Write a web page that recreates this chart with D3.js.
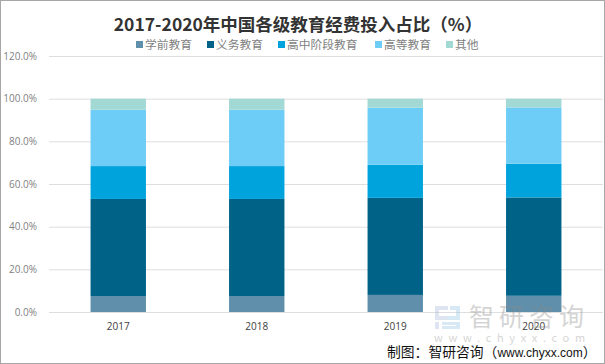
<!DOCTYPE html>
<html>
<head>
<meta charset="utf-8">
<script src="https://cdn.jsdelivr.net/npm/d3@7"></script>
<style>
  html, body { margin: 0; padding: 0; background: #fff; }
  svg { display: block; }
  text { font-family: "Noto Sans CJK SC", "Noto Sans", sans-serif; }
</style>
</head>
<body>
<div id="chart"></div>
<script>
const years = ["2017", "2018", "2019", "2020"]
const seriesNames = ["学前教育", "义务教育", "高中阶段教育", "高等教育", "其他"]
const colors = ["#5f8faa", "#006287", "#00a3dc", "#6dcdf6", "#a3d9d5"]
const preschool = [7.5, 7.5, 8.0, 7.6]
const compulsory = [45.5, 45.5, 45.5, 46.1]
const highSchool = [15.4, 15.4, 15.5, 15.8]
const higher = [26.4, 26.4, 26.8, 26.4]
const others = [5.2, 5.2, 4.2, 4.1]
const yTicks = [0, 20, 40, 60, 80, 100, 120]

const w = 605, h = 364
const svg = d3.select("#chart").append("svg").attr("width", w).attr("height", h)

svg.append("rect")
   .attr("x", 0.5).attr("y", 0.5)
   .attr("width", w - 1).attr("height", h - 1)
   .attr("fill", "#fff")
   .attr("stroke", "#a6a6a6")

const xScale = d3.scaleBand(years, [49, 603]).paddingInner(0.6).paddingOuter(0.3)
const yScale = d3.scaleLinear([0, 120], [312, 56])

// gridlines + y labels
const yAxis = d3.axisLeft(yScale).tickValues(yTicks).tickSize(-(603 - 49)).tickPadding(12)
                .tickFormat(d => d.toFixed(1) + "%")
const yG = svg.append("g").attr("transform", "translate(49,0)").call(yAxis)
yG.select(".domain").remove()
yG.selectAll("line").attr("stroke", "#dedede").attr("stroke-width", 1)
yG.selectAll("text").attr("fill", "#7f7f7f").style("font-size", "10px")
  .style("font-family", "'Open Sans', sans-serif")

// stacked bars
const rows = years.map((y, i) => ({
  year: y, 0: preschool[i], 1: compulsory[i], 2: highSchool[i], 3: higher[i], 4: others[i]
}))
const stacked = d3.stack().keys([0, 1, 2, 3, 4])(rows)

svg.selectAll(".layer")
   .data(stacked)
   .enter().append("g")
   .attr("fill", (d, i) => colors[i])
   .selectAll("rect")
   .data(d => d)
   .enter().append("rect")
   .attr("x", d => xScale(d.data.year))
   .attr("y", d => yScale(d[1]))
   .attr("width", xScale.bandwidth())
   .attr("height", d => yScale(d[0]) - yScale(d[1]))

// x labels
const xG = svg.append("g").attr("transform", "translate(0,312)")
              .call(d3.axisBottom(xScale).tickSize(0).tickPadding(11))
xG.select(".domain").remove()
xG.selectAll("text").attr("fill", "#404040").style("font-size", "10px")
  .style("font-family", "'Open Sans', sans-serif")

// title
svg.append("text")
   .attr("x", 298).attr("y", 31)
   .attr("text-anchor", "middle")
   .attr("fill", "#333")
   .style("font-size", "17.5px")
   .style("font-weight", "bold")
   .text("2017-2020年中国各级教育经费投入占比（%）")

// legend
const legendX = [136, 207, 278, 375, 446]
seriesNames.forEach((name, i) => {
  svg.append("rect")
     .attr("x", legendX[i]).attr("y", 41)
     .attr("width", 7).attr("height", 7)
     .attr("fill", colors[i])
  svg.append("text")
     .attr("x", legendX[i] + 9).attr("y", 49)
     .attr("fill", "#7f7f7f")
     .style("font-size", "11.75px")
     .text(name)
})

// watermark
const wm = svg.append("g").attr("opacity", 0.36)
wm.append("path")
  .attr("d", "M435 306h13v4h-9v6h9v4h-13z M435 322h4v7h-4z")
  .attr("fill", "#a9b8d8")
wm.append("path")
  .attr("d", "M450 306h10v14h-13v-4h9v-6h-6z M442 322h18v7h-18v-3h14v-1h-14z")
  .attr("fill", "#8fc4e6")
wm.append("text")
  .attr("x", 469).attr("y", 326)
  .attr("fill", "#8a8a8a")
  .style("font-size", "25px")
  .style("letter-spacing", "5px")
  .text("智研咨询")
wm.append("text")
  .attr("x", 434).attr("y", 342)
  .attr("fill", "#8a8a8a")
  .style("font-size", "11px")
  .style("letter-spacing", "5.7px")
  .text("www.chyxx.com")

// source
const src = svg.append("text")
   .attr("x", 387).attr("y", 357)
   .attr("fill", "#111")
   .style("font-size", "13.8px")
src.append("tspan").text("制图：智研咨询（")
src.append("tspan")
   .style("font-family", "'Liberation Sans', sans-serif")
   .style("font-size", "12px")
   .text("www.chyxx.com")
src.append("tspan").text("）")
</script>
</body>
</html>
